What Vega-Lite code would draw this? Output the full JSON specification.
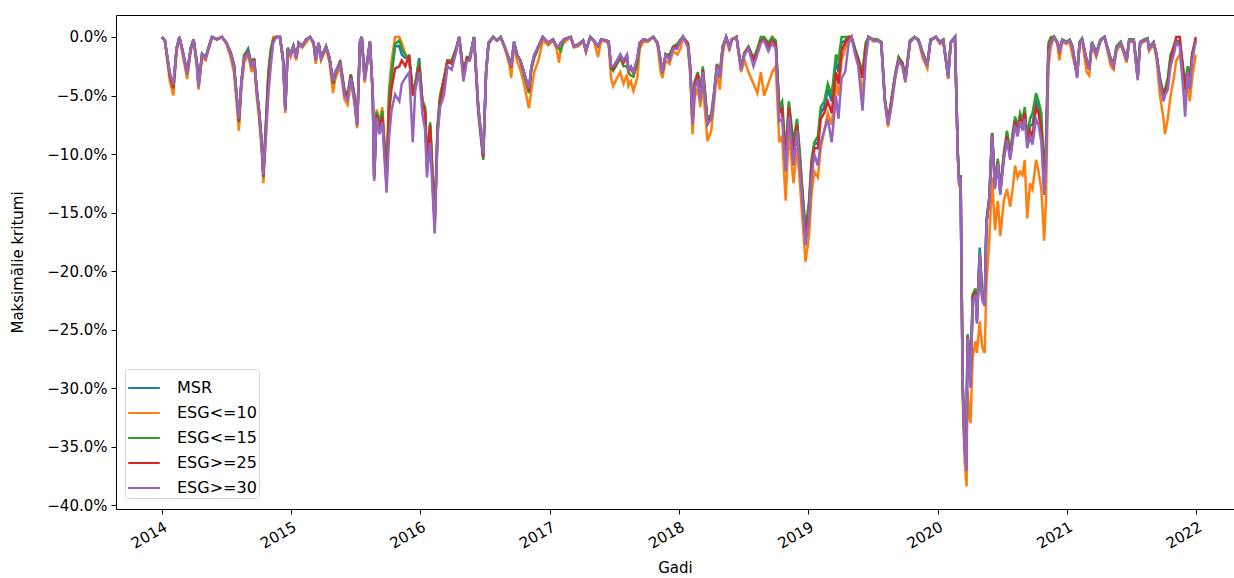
{
  "$schema": "https://vega.github.io/schema/vega-lite/v6.json",
  "width": 1118,
  "height": 494,
  "autosize": {"type": "none"},
  "padding": {"left": 116, "top": 15, "right": 0, "bottom": 69},
  "background": "white",
  "config": {
    "view": {"stroke": "#000", "strokeWidth": 1},
    "font": "DejaVu Sans",
    "axis": {"labelFont": "DejaVu Sans", "titleFont": "DejaVu Sans", "labelFontSize": 15, "titleFontSize": 15, "titleFontWeight": "normal", "labelColor": "#000", "titleColor": "#000", "tickColor": "#000", "domain": false, "grid": false, "tickSize": 5, "tickWidth": 1, "labelPadding": 4},
    "legend": {"labelFont": "DejaVu Sans", "labelFontSize": 16, "labelColor": "#000"}
  },
  "data": {"values": [
{"d":"2014-01-02","s1":0,"s2":0,"s3":0,"s4":0,"s5":0},
{"d":"2014-01-10","s1":-0.3,"s2":-0.3,"s3":-0.3,"s4":-0.3,"s5":-0.3},
{"d":"2014-01-24","s1":-3.3,"s2":-3.8,"s3":-3.3,"s4":-3.2,"s5":-3.0},
{"d":"2014-02-03","s1":-4.3,"s2":-5.0,"s3":-4.4,"s4":-4.3,"s5":-4.1},
{"d":"2014-02-12","s1":-1.0,"s2":-1.3,"s3":-1.0,"s4":-1.0,"s5":-1.0},
{"d":"2014-02-20","s1":0,"s2":0,"s3":0,"s4":0,"s5":0},
{"d":"2014-03-03","s1":-1.5,"s2":-1.8,"s3":-1.4,"s4":-1.5,"s5":-1.5},
{"d":"2014-03-14","s1":-3.1,"s2":-3.6,"s3":-3.0,"s4":-3.1,"s5":-3.2},
{"d":"2014-03-24","s1":-1.0,"s2":-1.2,"s3":-0.9,"s4":-1.0,"s5":-1.0},
{"d":"2014-04-01","s1":-0.2,"s2":-0.2,"s3":-0.2,"s4":-0.2,"s5":-0.2},
{"d":"2014-04-11","s1":-2.4,"s2":-2.8,"s3":-2.3,"s4":-2.4,"s5":-2.5},
{"d":"2014-04-15","s1":-4.2,"s2":-4.5,"s3":-4.1,"s4":-4.2,"s5":-4.3},
{"d":"2014-04-25","s1":-1.5,"s2":-1.7,"s3":-1.4,"s4":-1.5,"s5":-1.5},
{"d":"2014-05-05","s1":-1.8,"s2":-2.0,"s3":-1.7,"s4":-1.8,"s5":-1.8},
{"d":"2014-05-15","s1":-0.8,"s2":-0.9,"s3":-0.7,"s4":-0.8,"s5":-0.8},
{"d":"2014-05-23","s1":0,"s2":0,"s3":0,"s4":0,"s5":0},
{"d":"2014-06-06","s1":-0.2,"s2":-0.2,"s3":-0.2,"s4":-0.2,"s5":-0.2},
{"d":"2014-06-20","s1":0,"s2":0,"s3":0,"s4":0,"s5":0},
{"d":"2014-07-03","s1":-0.5,"s2":-0.6,"s3":-0.5,"s4":-0.5,"s5":-0.5},
{"d":"2014-07-15","s1":-1.4,"s2":-1.8,"s3":-1.3,"s4":-1.4,"s5":-1.5},
{"d":"2014-07-24","s1":-2.4,"s2":-3.0,"s3":-2.3,"s4":-2.4,"s5":-2.5},
{"d":"2014-07-31","s1":-4.8,"s2":-5.5,"s3":-4.7,"s4":-4.8,"s5":-5.0},
{"d":"2014-08-07","s1":-7.1,"s2":-8.0,"s3":-7.3,"s4":-7.2,"s5":-7.0},
{"d":"2014-08-14","s1":-3.9,"s2":-4.4,"s3":-3.8,"s4":-3.9,"s5":-4.0},
{"d":"2014-08-22","s1":-1.6,"s2":-2.2,"s3":-1.5,"s4":-1.7,"s5":-1.8},
{"d":"2014-09-02","s1":-1.0,"s2":-1.5,"s3":-1.2,"s4":-1.3,"s5":-1.4},
{"d":"2014-09-12","s1":-2.4,"s2":-3.0,"s3":-2.3,"s4":-2.4,"s5":-2.5},
{"d":"2014-09-19","s1":-1.9,"s2":-2.2,"s3":-1.8,"s4":-1.9,"s5":-2.0},
{"d":"2014-09-26","s1":-4.4,"s2":-5.0,"s3":-4.3,"s4":-4.4,"s5":-4.5},
{"d":"2014-10-03","s1":-6.3,"s2":-7.0,"s3":-6.2,"s4":-6.4,"s5":-6.5},
{"d":"2014-10-10","s1":-8.8,"s2":-9.5,"s3":-8.7,"s4":-8.9,"s5":-9.0},
{"d":"2014-10-15","s1":-11.8,"s2":-12.5,"s3":-12.0,"s4":-11.9,"s5":-11.8},
{"d":"2014-10-22","s1":-7.8,"s2":-8.8,"s3":-7.5,"s4":-8.0,"s5":-8.5},
{"d":"2014-10-29","s1":-3.5,"s2":-4.5,"s3":-3.0,"s4":-4.0,"s5":-5.0},
{"d":"2014-11-05","s1":-1.3,"s2":-1.5,"s3":-1.0,"s4":-1.8,"s5":-2.5},
{"d":"2014-11-12","s1":-0.2,"s2":0,"s3":-0.2,"s4":-0.3,"s5":-0.5},
{"d":"2014-11-21","s1":0,"s2":0,"s3":0,"s4":0,"s5":0},
{"d":"2014-12-01","s1":0,"s2":0,"s3":0,"s4":0,"s5":0},
{"d":"2014-12-10","s1":-2.0,"s2":-2.2,"s3":-1.9,"s4":-2.0,"s5":-2.0},
{"d":"2014-12-16","s1":-6.2,"s2":-6.5,"s3":-6.1,"s4":-6.2,"s5":-6.3},
{"d":"2014-12-23","s1":-1.0,"s2":-1.1,"s3":-0.9,"s4":-1.0,"s5":-1.0},
{"d":"2014-12-31","s1":-1.5,"s2":-1.7,"s3":-1.4,"s4":-1.5,"s5":-1.5},
{"d":"2015-01-08","s1":-0.8,"s2":-0.9,"s3":-0.7,"s4":-0.8,"s5":-0.8},
{"d":"2015-01-16","s1":-1.8,"s2":-2.0,"s3":-1.7,"s4":-1.8,"s5":-1.8},
{"d":"2015-01-23","s1":-0.5,"s2":-0.6,"s3":-0.5,"s4":-0.5,"s5":-0.5},
{"d":"2015-02-02","s1":-0.8,"s2":-0.9,"s3":-0.7,"s4":-0.8,"s5":-0.8},
{"d":"2015-02-13","s1":-0.2,"s2":-0.5,"s3":-0.2,"s4":-0.2,"s5":-0.2},
{"d":"2015-02-24","s1":0,"s2":0,"s3":0,"s4":0,"s5":0},
{"d":"2015-03-06","s1":-0.5,"s2":-0.6,"s3":-0.5,"s4":-0.5,"s5":-0.5},
{"d":"2015-03-12","s1":-2.0,"s2":-2.3,"s3":-1.9,"s4":-2.0,"s5":-2.0},
{"d":"2015-03-20","s1":-0.5,"s2":-0.6,"s3":-0.5,"s4":-0.5,"s5":-0.5},
{"d":"2015-03-27","s1":-1.8,"s2":-2.0,"s3":-1.7,"s4":-1.8,"s5":-1.8},
{"d":"2015-04-10","s1":-0.8,"s2":-1.0,"s3":-0.8,"s4":-0.8,"s5":-0.8},
{"d":"2015-04-20","s1":-1.8,"s2":-2.2,"s3":-1.8,"s4":-1.8,"s5":-1.8},
{"d":"2015-04-30","s1":-3.8,"s2":-4.8,"s3":-4.0,"s4":-3.9,"s5":-3.8},
{"d":"2015-05-06","s1":-3.0,"s2":-3.6,"s3":-3.2,"s4":-3.0,"s5":-3.0},
{"d":"2015-05-20","s1":-2.2,"s2":-2.5,"s3":-2.0,"s4":-2.2,"s5":-2.3},
{"d":"2015-06-01","s1":-4.6,"s2":-5.3,"s3":-4.5,"s4":-4.7,"s5":-5.0},
{"d":"2015-06-10","s1":-5.0,"s2":-5.8,"s3":-5.0,"s4":-5.1,"s5":-5.4},
{"d":"2015-06-19","s1":-3.2,"s2":-3.8,"s3":-3.2,"s4":-3.3,"s5":-3.5},
{"d":"2015-06-29","s1":-5.0,"s2":-5.6,"s3":-4.9,"s4":-5.1,"s5":-5.4},
{"d":"2015-07-07","s1":-7.4,"s2":-7.8,"s3":-7.3,"s4":-7.5,"s5":-7.6},
{"d":"2015-07-15","s1":-0.4,"s2":-0.6,"s3":-0.4,"s4":-0.4,"s5":-0.4},
{"d":"2015-07-20","s1":0,"s2":0,"s3":0,"s4":0,"s5":0},
{"d":"2015-07-28","s1":-3.5,"s2":-3.9,"s3":-3.4,"s4":-3.6,"s5":-3.7},
{"d":"2015-08-05","s1":-2.0,"s2":-2.2,"s3":-1.9,"s4":-2.0,"s5":-2.1},
{"d":"2015-08-12","s1":-0.4,"s2":-0.5,"s3":-0.4,"s4":-0.4,"s5":-0.4},
{"d":"2015-08-20","s1":-4.8,"s2":-5.0,"s3":-4.7,"s4":-4.8,"s5":-4.9},
{"d":"2015-08-24","s1":-12.0,"s2":-11.8,"s3":-11.9,"s4":-12.1,"s5":-12.3},
{"d":"2015-08-31","s1":-6.5,"s2":-6.2,"s3":-6.4,"s4":-6.7,"s5":-6.9},
{"d":"2015-09-08","s1":-7.5,"s2":-7.2,"s3":-7.4,"s4":-7.8,"s5":-8.3},
{"d":"2015-09-16","s1":-6.5,"s2":-6.0,"s3":-6.3,"s4":-6.8,"s5":-7.3},
{"d":"2015-09-28","s1":-12.3,"s2":-12.0,"s3":-12.2,"s4":-12.6,"s5":-13.3},
{"d":"2015-10-05","s1":-6.0,"s2":-4.4,"s3":-5.0,"s4":-6.5,"s5":-8.6},
{"d":"2015-10-12","s1":-3.3,"s2":-2.1,"s3":-3.0,"s4":-4.4,"s5":-6.3},
{"d":"2015-10-22","s1":-0.8,"s2":0,"s3":-0.6,"s4":-2.7,"s5":-4.9},
{"d":"2015-11-03","s1":-0.8,"s2":0,"s3":-0.3,"s4":-2.5,"s5":-5.5},
{"d":"2015-11-10","s1":-1.5,"s2":-0.5,"s3":-1.0,"s4":-2.0,"s5":-4.0},
{"d":"2015-11-20","s1":-1.8,"s2":-1.5,"s3":-1.5,"s4":-2.5,"s5":-3.5},
{"d":"2015-12-01","s1":-1.8,"s2":-2.0,"s3":-2.0,"s4":-1.5,"s5":-3.0},
{"d":"2015-12-11","s1":-4.8,"s2":-5.0,"s3":-4.5,"s4":-5.0,"s5":-9.0},
{"d":"2015-12-18","s1":-4.1,"s2":-4.5,"s3":-4.0,"s4":-4.3,"s5":-4.5},
{"d":"2015-12-29","s1":-1.8,"s2":-2.5,"s3":-2.0,"s4":-2.5,"s5":-3.0},
{"d":"2016-01-07","s1":-5.5,"s2":-5.5,"s3":-5.4,"s4":-5.6,"s5":-6.5},
{"d":"2016-01-15","s1":-6.2,"s2":-6.5,"s3":-6.0,"s4":-6.5,"s5":-8.0},
{"d":"2016-01-20","s1":-10.8,"s2":-11.5,"s3":-10.5,"s4":-11.0,"s5":-12.0},
{"d":"2016-01-29","s1":-7.5,"s2":-7.5,"s3":-7.3,"s4":-7.6,"s5":-9.0},
{"d":"2016-02-11","s1":-15.8,"s2":-16.5,"s3":-15.5,"s4":-16.0,"s5":-16.8},
{"d":"2016-02-19","s1":-7.8,"s2":-8.0,"s3":-7.6,"s4":-8.0,"s5":-8.5},
{"d":"2016-02-26","s1":-5.2,"s2":-5.5,"s3":-5.0,"s4":-5.5,"s5":-6.0},
{"d":"2016-03-08","s1":-3.6,"s2":-4.0,"s3":-3.5,"s4":-3.8,"s5":-5.0},
{"d":"2016-03-18","s1":-2.0,"s2":-2.0,"s3":-2.0,"s4":-2.1,"s5":-2.5},
{"d":"2016-03-30","s1":-2.1,"s2":-2.0,"s3":-2.0,"s4":-2.3,"s5":-2.8},
{"d":"2016-04-12","s1":-1.0,"s2":-1.1,"s3":-0.9,"s4":-1.0,"s5":-1.2},
{"d":"2016-04-20","s1":0,"s2":0,"s3":0,"s4":0,"s5":0},
{"d":"2016-05-02","s1":-3.1,"s2":-3.0,"s3":-3.0,"s4":-3.2,"s5":-3.8},
{"d":"2016-05-12","s1":-1.8,"s2":-1.9,"s3":-1.7,"s4":-1.8,"s5":-2.0},
{"d":"2016-05-20","s1":-1.8,"s2":-2.0,"s3":-1.7,"s4":-1.9,"s5":-2.0},
{"d":"2016-06-01","s1":0,"s2":0,"s3":0,"s4":0,"s5":0},
{"d":"2016-06-13","s1":-6.0,"s2":-6.0,"s3":-6.5,"s4":-6.1,"s5":-6.0},
{"d":"2016-06-27","s1":-10.2,"s2":-10.0,"s3":-10.5,"s4":-10.3,"s5":-10.0},
{"d":"2016-07-05","s1":-3.0,"s2":-3.0,"s3":-3.2,"s4":-3.0,"s5":-3.0},
{"d":"2016-07-12","s1":-0.5,"s2":-0.5,"s3":-0.6,"s4":-0.5,"s5":-0.5},
{"d":"2016-07-25","s1":0,"s2":0,"s3":0,"s4":0,"s5":0},
{"d":"2016-08-05","s1":-0.3,"s2":-0.3,"s3":-0.3,"s4":-0.3,"s5":-0.3},
{"d":"2016-08-15","s1":0,"s2":0,"s3":0,"s4":0,"s5":0},
{"d":"2016-08-26","s1":-0.8,"s2":-0.9,"s3":-0.8,"s4":-0.8,"s5":-0.8},
{"d":"2016-09-09","s1":-2.0,"s2":-2.4,"s3":-1.9,"s4":-2.0,"s5":-2.0},
{"d":"2016-09-14","s1":-2.5,"s2":-3.5,"s3":-2.5,"s4":-2.6,"s5":-2.5},
{"d":"2016-09-22","s1":-0.4,"s2":-0.6,"s3":-0.4,"s4":-0.5,"s5":-0.5},
{"d":"2016-09-30","s1":-1.5,"s2":-2.0,"s3":-1.4,"s4":-1.5,"s5":-1.5},
{"d":"2016-10-10","s1":-2.0,"s2":-2.8,"s3":-2.1,"s4":-2.0,"s5":-2.0},
{"d":"2016-10-20","s1":-3.0,"s2":-4.0,"s3":-3.2,"s4":-3.0,"s5":-3.0},
{"d":"2016-11-03","s1":-4.5,"s2":-6.1,"s3":-4.8,"s4":-4.6,"s5":-4.4},
{"d":"2016-11-10","s1":-2.6,"s2":-4.5,"s3":-2.8,"s4":-2.6,"s5":-2.5},
{"d":"2016-11-18","s1":-1.6,"s2":-3.0,"s3":-1.8,"s4":-1.6,"s5":-1.5},
{"d":"2016-11-30","s1":-0.8,"s2":-2.0,"s3":-0.9,"s4":-0.8,"s5":-0.8},
{"d":"2016-12-12","s1":0,"s2":-0.3,"s3":0,"s4":0,"s5":0},
{"d":"2016-12-28","s1":-0.5,"s2":-0.7,"s3":-0.5,"s4":-0.5,"s5":-0.5},
{"d":"2017-01-10","s1":-0.2,"s2":-0.3,"s3":-0.2,"s4":-0.2,"s5":-0.2},
{"d":"2017-01-20","s1":-0.8,"s2":-1.0,"s3":-0.8,"s4":-0.8,"s5":-0.8},
{"d":"2017-01-27","s1":-0.8,"s2":-2.2,"s3":-1.0,"s4":-0.8,"s5":-0.8},
{"d":"2017-02-01","s1":-0.5,"s2":-0.8,"s3":-1.2,"s4":-0.5,"s5":-0.5},
{"d":"2017-02-10","s1":-0.2,"s2":-0.5,"s3":-0.2,"s4":-0.2,"s5":-0.2},
{"d":"2017-03-01","s1":0,"s2":0,"s3":0,"s4":0,"s5":0},
{"d":"2017-03-10","s1":-0.8,"s2":-0.9,"s3":-0.8,"s4":-0.8,"s5":-0.8},
{"d":"2017-03-22","s1":-0.7,"s2":-0.8,"s3":-0.6,"s4":-0.7,"s5":-0.7},
{"d":"2017-04-05","s1":-0.3,"s2":-0.4,"s3":-0.3,"s4":-0.3,"s5":-0.3},
{"d":"2017-04-13","s1":-1.2,"s2":-1.3,"s3":-1.1,"s4":-1.2,"s5":-1.2},
{"d":"2017-04-25","s1":0,"s2":0,"s3":0,"s4":0,"s5":0},
{"d":"2017-05-05","s1":-0.3,"s2":-0.3,"s3":-0.3,"s4":-0.3,"s5":-0.3},
{"d":"2017-05-17","s1":-0.8,"s2":-1.7,"s3":-0.8,"s4":-0.8,"s5":-0.8},
{"d":"2017-05-26","s1":-0.2,"s2":-0.3,"s3":-0.2,"s4":-0.2,"s5":-0.2},
{"d":"2017-06-09","s1":-0.3,"s2":-0.4,"s3":-0.3,"s4":-0.3,"s5":-0.3},
{"d":"2017-06-16","s1":-0.4,"s2":-0.6,"s3":-0.4,"s4":-0.4,"s5":-0.4},
{"d":"2017-06-23","s1":-2.5,"s2":-3.5,"s3":-2.7,"s4":-2.6,"s5":-2.5},
{"d":"2017-06-29","s1":-2.6,"s2":-4.2,"s3":-2.9,"s4":-2.7,"s5":-2.5},
{"d":"2017-07-10","s1":-2.0,"s2":-3.5,"s3":-2.3,"s4":-2.1,"s5":-2.0},
{"d":"2017-07-19","s1":-1.5,"s2":-3.0,"s3":-1.8,"s4":-1.6,"s5":-1.5},
{"d":"2017-07-28","s1":-2.1,"s2":-4.0,"s3":-2.5,"s4":-2.2,"s5":-2.0},
{"d":"2017-08-07","s1":-1.6,"s2":-3.2,"s3":-2.5,"s4":-1.7,"s5":-1.5},
{"d":"2017-08-11","s1":-2.8,"s2":-4.2,"s3":-3.0,"s4":-2.9,"s5":-2.8},
{"d":"2017-08-18","s1":-2.6,"s2":-3.8,"s3":-3.3,"s4":-2.7,"s5":-2.5},
{"d":"2017-08-25","s1":-3.0,"s2":-4.6,"s3":-3.4,"s4":-3.1,"s5":-3.0},
{"d":"2017-09-05","s1":-1.9,"s2":-3.5,"s3":-2.3,"s4":-1.9,"s5":-1.8},
{"d":"2017-09-12","s1":-0.5,"s2":-1.0,"s3":-0.6,"s4":-0.5,"s5":-0.5},
{"d":"2017-09-22","s1":-0.2,"s2":-0.4,"s3":-0.2,"s4":-0.2,"s5":-0.2},
{"d":"2017-10-05","s1":-0.3,"s2":-0.4,"s3":-0.3,"s4":-0.3,"s5":-0.3},
{"d":"2017-10-20","s1":0,"s2":0,"s3":0,"s4":0,"s5":0},
{"d":"2017-11-01","s1":-0.5,"s2":-0.6,"s3":-0.5,"s4":-0.5,"s5":-0.5},
{"d":"2017-11-10","s1":-2.0,"s2":-3.0,"s3":-2.1,"s4":-2.0,"s5":-2.0},
{"d":"2017-11-15","s1":-3.0,"s2":-3.5,"s3":-3.1,"s4":-3.0,"s5":-3.0},
{"d":"2017-11-24","s1":-1.5,"s2":-2.0,"s3":-1.5,"s4":-1.5,"s5":-1.5},
{"d":"2017-12-05","s1":-1.6,"s2":-2.3,"s3":-1.5,"s4":-1.8,"s5":-2.0},
{"d":"2017-12-15","s1":-0.9,"s2":-1.2,"s3":-0.8,"s4":-0.9,"s5":-1.0},
{"d":"2017-12-27","s1":-0.9,"s2":-1.5,"s3":-0.6,"s4":-0.8,"s5":-1.0},
{"d":"2018-01-05","s1":-0.3,"s2":-1.0,"s3":-0.2,"s4":-0.3,"s5":-0.3},
{"d":"2018-01-12","s1":0,"s2":0,"s3":0,"s4":0,"s5":0},
{"d":"2018-01-26","s1":-0.6,"s2":-0.9,"s3":-0.5,"s4":-0.6,"s5":-0.8},
{"d":"2018-02-02","s1":-2.8,"s2":-3.5,"s3":-2.6,"s4":-2.8,"s5":-3.0},
{"d":"2018-02-08","s1":-7.4,"s2":-8.3,"s3":-7.3,"s4":-7.4,"s5":-7.5},
{"d":"2018-02-14","s1":-4.1,"s2":-5.2,"s3":-3.8,"s4":-4.0,"s5":-4.4},
{"d":"2018-02-23","s1":-3.3,"s2":-4.3,"s3":-3.0,"s4":-3.2,"s5":-3.6},
{"d":"2018-03-02","s1":-5.3,"s2":-6.0,"s3":-5.0,"s4":-5.2,"s5":-5.5},
{"d":"2018-03-09","s1":-2.7,"s2":-4.0,"s3":-2.5,"s4":-2.8,"s5":-3.0},
{"d":"2018-03-22","s1":-7.2,"s2":-8.9,"s3":-7.0,"s4":-7.3,"s5":-7.5},
{"d":"2018-04-02","s1":-6.8,"s2":-8.0,"s3":-6.6,"s4":-6.9,"s5":-7.0},
{"d":"2018-04-10","s1":-4.8,"s2":-5.5,"s3":-4.6,"s4":-4.9,"s5":-5.0},
{"d":"2018-04-18","s1":-2.4,"s2":-3.0,"s3":-2.3,"s4":-2.4,"s5":-2.5},
{"d":"2018-04-26","s1":-3.3,"s2":-4.5,"s3":-3.2,"s4":-3.4,"s5":-3.5},
{"d":"2018-05-04","s1":-0.9,"s2":-1.5,"s3":-0.8,"s4":-0.9,"s5":-1.0},
{"d":"2018-05-14","s1":0,"s2":0,"s3":0,"s4":0,"s5":0},
{"d":"2018-05-23","s1":-0.9,"s2":-1.2,"s3":-0.8,"s4":-0.9,"s5":-1.0},
{"d":"2018-05-30","s1":-0.2,"s2":-0.3,"s3":-0.2,"s4":-0.2,"s5":-0.2},
{"d":"2018-06-12","s1":0,"s2":0,"s3":0,"s4":0,"s5":0},
{"d":"2018-06-25","s1":-2.6,"s2":-3.0,"s3":-2.5,"s4":-2.7,"s5":-2.8},
{"d":"2018-07-05","s1":-1.4,"s2":-2.0,"s3":-1.3,"s4":-1.4,"s5":-1.5},
{"d":"2018-07-16","s1":-0.9,"s2":-3.0,"s3":-0.8,"s4":-0.9,"s5":-1.0},
{"d":"2018-07-30","s1":-2.0,"s2":-4.0,"s3":-1.8,"s4":-2.0,"s5":-2.5},
{"d":"2018-08-10","s1":-1.2,"s2":-4.8,"s3":-1.0,"s4":-1.3,"s5":-1.5},
{"d":"2018-08-20","s1":-0.3,"s2":-3.0,"s3":0,"s4":-0.3,"s5":-0.5},
{"d":"2018-08-29","s1":-0.2,"s2":-5.0,"s3":0,"s4":-0.2,"s5":-0.3},
{"d":"2018-09-10","s1":-0.8,"s2":-4.0,"s3":-0.5,"s4":-0.8,"s5":-1.2},
{"d":"2018-09-21","s1":-0.2,"s2":-3.0,"s3":0,"s4":-0.3,"s5":-0.5},
{"d":"2018-10-01","s1":-0.5,"s2":-2.5,"s3":-0.3,"s4":-0.6,"s5":-1.0},
{"d":"2018-10-11","s1":-6.3,"s2":-9.0,"s3":-6.0,"s4":-6.5,"s5":-7.2},
{"d":"2018-10-19","s1":-6.0,"s2":-8.5,"s3":-5.5,"s4":-6.2,"s5":-7.0},
{"d":"2018-10-29","s1":-10.3,"s2":-14.0,"s3":-10.0,"s4":-10.5,"s5":-11.5},
{"d":"2018-11-07","s1":-5.8,"s2":-8.0,"s3":-5.5,"s4":-6.0,"s5":-6.8},
{"d":"2018-11-20","s1":-9.5,"s2":-12.5,"s3":-9.0,"s4":-10.0,"s5":-11.0},
{"d":"2018-11-30","s1":-7.2,"s2":-9.5,"s3":-7.0,"s4":-7.5,"s5":-8.0},
{"d":"2018-12-07","s1":-10.0,"s2":-12.0,"s3":-9.5,"s4":-10.5,"s5":-11.0},
{"d":"2018-12-14","s1":-12.8,"s2":-15.0,"s3":-12.5,"s4":-13.0,"s5":-13.5},
{"d":"2018-12-24","s1":-16.8,"s2":-19.2,"s3":-16.5,"s4":-17.2,"s5":-17.8},
{"d":"2019-01-03","s1":-14.5,"s2":-17.0,"s3":-14.0,"s4":-15.0,"s5":-15.5},
{"d":"2019-01-10","s1":-10.8,"s2":-13.5,"s3":-10.5,"s4":-11.0,"s5":-12.0},
{"d":"2019-01-18","s1":-9.2,"s2":-11.5,"s3":-9.0,"s4":-9.5,"s5":-10.0},
{"d":"2019-01-28","s1":-9.0,"s2":-12.0,"s3":-8.5,"s4":-9.5,"s5":-11.0},
{"d":"2019-02-05","s1":-6.5,"s2":-9.5,"s3":-6.0,"s4":-7.0,"s5":-9.0},
{"d":"2019-02-15","s1":-6.0,"s2":-8.0,"s3":-5.5,"s4":-6.5,"s5":-8.0},
{"d":"2019-02-25","s1":-4.5,"s2":-6.5,"s3":-4.0,"s4":-5.5,"s5":-7.0},
{"d":"2019-03-08","s1":-5.5,"s2":-7.5,"s3":-5.0,"s4":-6.5,"s5":-9.0},
{"d":"2019-03-20","s1":-2.0,"s2":-4.0,"s3":-1.5,"s4":-3.0,"s5":-5.0},
{"d":"2019-03-27","s1":-3.0,"s2":-5.0,"s3":-2.0,"s4":-4.0,"s5":-7.0},
{"d":"2019-04-05","s1":-0.5,"s2":-2.0,"s3":0,"s4":-1.2,"s5":-3.5},
{"d":"2019-04-15","s1":-0.3,"s2":-1.0,"s3":0,"s4":-0.5,"s5":-3.0},
{"d":"2019-04-25","s1":0,"s2":0,"s3":0,"s4":0,"s5":-0.5},
{"d":"2019-05-03","s1":0,"s2":0,"s3":0,"s4":0,"s5":0},
{"d":"2019-05-13","s1":-1.1,"s2":-1.2,"s3":-1.0,"s4":-1.2,"s5":-1.5},
{"d":"2019-05-22","s1":-2.0,"s2":-2.2,"s3":-1.8,"s4":-2.0,"s5":-2.5},
{"d":"2019-06-03","s1":-3.2,"s2":-5.0,"s3":-3.0,"s4":-3.5,"s5":-6.3},
{"d":"2019-06-12","s1":-0.8,"s2":-1.5,"s3":-0.5,"s4":-1.0,"s5":-2.0},
{"d":"2019-06-20","s1":0,"s2":0,"s3":0,"s4":0,"s5":0},
{"d":"2019-07-05","s1":-0.3,"s2":-0.4,"s3":-0.2,"s4":-0.3,"s5":-0.3},
{"d":"2019-07-15","s1":-0.3,"s2":-0.3,"s3":-0.2,"s4":-0.3,"s5":-0.3},
{"d":"2019-07-26","s1":-0.5,"s2":-0.5,"s3":-0.4,"s4":-0.5,"s5":-0.5},
{"d":"2019-08-05","s1":-5.3,"s2":-5.5,"s3":-5.2,"s4":-5.4,"s5":-5.5},
{"d":"2019-08-14","s1":-7.3,"s2":-7.7,"s3":-7.2,"s4":-7.4,"s5":-7.5},
{"d":"2019-08-23","s1":-5.6,"s2":-6.0,"s3":-5.5,"s4":-5.5,"s5":-6.0},
{"d":"2019-09-03","s1":-3.3,"s2":-3.6,"s3":-3.2,"s4":-3.4,"s5":-3.5},
{"d":"2019-09-13","s1":-1.8,"s2":-2.0,"s3":-1.7,"s4":-1.9,"s5":-2.0},
{"d":"2019-09-24","s1":-2.3,"s2":-2.6,"s3":-2.2,"s4":-2.3,"s5":-2.5},
{"d":"2019-10-02","s1":-3.6,"s2":-3.9,"s3":-3.5,"s4":-3.7,"s5":-3.8},
{"d":"2019-10-15","s1":-0.4,"s2":-0.5,"s3":-0.3,"s4":-0.4,"s5":-0.5},
{"d":"2019-10-28","s1":0,"s2":0,"s3":0,"s4":0,"s5":0},
{"d":"2019-11-08","s1":-0.3,"s2":-0.3,"s3":-0.2,"s4":-0.3,"s5":-0.3},
{"d":"2019-11-20","s1":-1.4,"s2":-1.8,"s3":-1.3,"s4":-1.4,"s5":-1.5},
{"d":"2019-12-03","s1":-2.4,"s2":-2.7,"s3":-2.3,"s4":-2.4,"s5":-2.5},
{"d":"2019-12-12","s1":-0.3,"s2":-0.3,"s3":-0.2,"s4":-0.3,"s5":-0.3},
{"d":"2019-12-27","s1":0,"s2":0,"s3":0,"s4":0,"s5":0},
{"d":"2020-01-08","s1":-0.5,"s2":-0.6,"s3":-0.4,"s4":-0.5,"s5":-0.5},
{"d":"2020-01-17","s1":-0.3,"s2":-0.3,"s3":-0.2,"s4":-0.3,"s5":-0.3},
{"d":"2020-01-31","s1":-3.4,"s2":-3.6,"s3":-3.3,"s4":-3.4,"s5":-3.5},
{"d":"2020-02-07","s1":-0.5,"s2":-0.5,"s3":-0.4,"s4":-0.5,"s5":-0.5},
{"d":"2020-02-19","s1":0,"s2":0,"s3":0,"s4":0,"s5":0},
{"d":"2020-02-24","s1":-6.2,"s2":-6.4,"s3":-6.1,"s4":-6.2,"s5":-6.3},
{"d":"2020-02-27","s1":-9.9,"s2":-10.2,"s3":-9.8,"s4":-9.9,"s5":-10.0},
{"d":"2020-03-02","s1":-12.5,"s2":-12.8,"s3":-12.4,"s4":-12.5,"s5":-12.6},
{"d":"2020-03-06","s1":-11.9,"s2":-12.2,"s3":-11.8,"s4":-11.9,"s5":-12.0},
{"d":"2020-03-09","s1":-21.3,"s2":-21.8,"s3":-21.2,"s4":-21.4,"s5":-21.5},
{"d":"2020-03-12","s1":-29.8,"s2":-31.0,"s3":-29.7,"s4":-29.9,"s5":-30.0},
{"d":"2020-03-16","s1":-33.8,"s2":-35.0,"s3":-33.5,"s4":-33.8,"s5":-34.0},
{"d":"2020-03-18","s1":-35.3,"s2":-36.5,"s3":-35.1,"s4":-35.3,"s5":-35.5},
{"d":"2020-03-23","s1":-36.6,"s2":-38.4,"s3":-36.5,"s4":-36.8,"s5":-37.1},
{"d":"2020-03-24","s1":-29.8,"s2":-33.0,"s3":-29.7,"s4":-29.9,"s5":-30.0},
{"d":"2020-03-26","s1":-25.5,"s2":-30.3,"s3":-25.4,"s4":-25.6,"s5":-25.7},
{"d":"2020-03-31","s1":-27.7,"s2":-32.5,"s3":-27.5,"s4":-27.8,"s5":-28.0},
{"d":"2020-04-03","s1":-29.8,"s2":-33.0,"s3":-29.6,"s4":-29.8,"s5":-30.0},
{"d":"2020-04-09","s1":-22.2,"s2":-27.4,"s3":-22.0,"s4":-22.3,"s5":-22.6},
{"d":"2020-04-17","s1":-21.6,"s2":-26.0,"s3":-21.5,"s4":-21.8,"s5":-22.0},
{"d":"2020-04-21","s1":-24.2,"s2":-27.0,"s3":-24.0,"s4":-24.3,"s5":-24.5},
{"d":"2020-04-29","s1":-18.0,"s2":-24.3,"s3":-18.3,"s4":-18.7,"s5":-18.5},
{"d":"2020-05-01","s1":-19.3,"s2":-25.0,"s3":-19.1,"s4":-19.4,"s5":-19.5},
{"d":"2020-05-06","s1":-22.2,"s2":-26.5,"s3":-22.0,"s4":-22.3,"s5":-22.5},
{"d":"2020-05-13","s1":-22.7,"s2":-27.0,"s3":-22.5,"s4":-22.8,"s5":-23.0},
{"d":"2020-05-18","s1":-15.8,"s2":-21.0,"s3":-15.6,"s4":-15.9,"s5":-16.0},
{"d":"2020-05-26","s1":-13.8,"s2":-17.4,"s3":-13.6,"s4":-13.9,"s5":-14.0},
{"d":"2020-06-03","s1":-8.2,"s2":-12.0,"s3":-8.2,"s4":-8.3,"s5":-8.4},
{"d":"2020-06-11","s1":-12.7,"s2":-16.5,"s3":-12.5,"s4":-12.8,"s5":-13.0},
{"d":"2020-06-19","s1":-10.6,"s2":-14.0,"s3":-10.4,"s4":-10.7,"s5":-10.8},
{"d":"2020-06-26","s1":-13.2,"s2":-17.0,"s3":-13.0,"s4":-13.3,"s5":-13.5},
{"d":"2020-07-06","s1":-10.2,"s2":-14.0,"s3":-9.9,"s4":-10.3,"s5":-10.5},
{"d":"2020-07-15","s1":-8.4,"s2":-13.0,"s3":-8.0,"s4":-8.5,"s5":-8.8},
{"d":"2020-07-24","s1":-10.2,"s2":-14.5,"s3":-9.8,"s4":-10.3,"s5":-10.5},
{"d":"2020-07-31","s1":-8.6,"s2":-13.0,"s3":-8.2,"s4":-8.7,"s5":-9.0},
{"d":"2020-08-07","s1":-7.1,"s2":-11.0,"s3":-6.8,"s4":-7.2,"s5":-7.5},
{"d":"2020-08-14","s1":-8.1,"s2":-12.0,"s3":-7.7,"s4":-8.2,"s5":-8.5},
{"d":"2020-08-21","s1":-6.8,"s2":-11.5,"s3":-6.5,"s4":-7.0,"s5":-7.2},
{"d":"2020-08-28","s1":-7.5,"s2":-11.8,"s3":-7.1,"s4":-7.6,"s5":-8.0},
{"d":"2020-09-03","s1":-6.4,"s2":-10.5,"s3":-6.0,"s4":-6.5,"s5":-7.0},
{"d":"2020-09-10","s1":-8.8,"s2":-15.5,"s3":-8.5,"s4":-9.0,"s5":-9.5},
{"d":"2020-09-18","s1":-7.6,"s2":-12.5,"s3":-7.0,"s4":-8.0,"s5":-8.5},
{"d":"2020-09-25","s1":-7.5,"s2":-13.0,"s3":-6.5,"s4":-8.5,"s5":-9.2},
{"d":"2020-10-05","s1":-5.5,"s2":-10.5,"s3":-4.8,"s4":-6.0,"s5":-7.0},
{"d":"2020-10-12","s1":-6.0,"s2":-11.5,"s3":-5.5,"s4":-6.5,"s5":-7.5},
{"d":"2020-10-20","s1":-7.3,"s2":-13.0,"s3":-6.5,"s4":-8.0,"s5":-9.0},
{"d":"2020-10-28","s1":-12.5,"s2":-17.4,"s3":-12.0,"s4":-13.0,"s5":-13.5},
{"d":"2020-11-02","s1":-9.5,"s2":-14.0,"s3":-9.0,"s4":-10.0,"s5":-11.0},
{"d":"2020-11-09","s1":-0.8,"s2":-2.5,"s3":-0.5,"s4":-1.0,"s5":-1.5},
{"d":"2020-11-16","s1":-0.2,"s2":-0.8,"s3":0,"s4":-0.3,"s5":-0.5},
{"d":"2020-11-25","s1":0,"s2":0,"s3":0,"s4":0,"s5":0},
{"d":"2020-12-04","s1":-0.4,"s2":-0.6,"s3":-0.4,"s4":-0.5,"s5":-0.5},
{"d":"2020-12-10","s1":-1.2,"s2":-2.0,"s3":-1.1,"s4":-1.2,"s5":-1.3},
{"d":"2020-12-18","s1":-0.3,"s2":-0.4,"s3":-0.2,"s4":-0.3,"s5":-0.3},
{"d":"2020-12-30","s1":-0.5,"s2":-0.6,"s3":-0.4,"s4":-0.5,"s5":-0.5},
{"d":"2021-01-08","s1":-0.3,"s2":-0.4,"s3":-0.2,"s4":-0.3,"s5":-0.3},
{"d":"2021-01-15","s1":-0.8,"s2":-1.5,"s3":-0.7,"s4":-0.8,"s5":-0.8},
{"d":"2021-01-29","s1":-3.3,"s2":-3.2,"s3":-3.0,"s4":-3.4,"s5":-3.5},
{"d":"2021-02-05","s1":-0.5,"s2":-0.6,"s3":-0.4,"s4":-0.5,"s5":-0.5},
{"d":"2021-02-12","s1":-0.2,"s2":-0.3,"s3":-0.1,"s4":-0.2,"s5":-0.2},
{"d":"2021-02-25","s1":-2.0,"s2":-3.0,"s3":-2.0,"s4":-2.0,"s5":-2.0},
{"d":"2021-03-04","s1":-2.7,"s2":-3.3,"s3":-2.6,"s4":-2.8,"s5":-2.8},
{"d":"2021-03-12","s1":-0.5,"s2":-0.6,"s3":-0.4,"s4":-0.5,"s5":-0.5},
{"d":"2021-03-24","s1":-1.4,"s2":-1.7,"s3":-1.3,"s4":-1.5,"s5":-1.5},
{"d":"2021-04-05","s1":-0.3,"s2":-0.3,"s3":-0.2,"s4":-0.3,"s5":-0.3},
{"d":"2021-04-16","s1":0,"s2":0,"s3":0,"s4":0,"s5":0},
{"d":"2021-05-04","s1":-1.9,"s2":-2.5,"s3":-1.8,"s4":-2.0,"s5":-2.0},
{"d":"2021-05-12","s1":-2.4,"s2":-2.8,"s3":-2.3,"s4":-2.5,"s5":-2.5},
{"d":"2021-05-20","s1":-0.9,"s2":-1.2,"s3":-0.8,"s4":-1.0,"s5":-1.0},
{"d":"2021-06-01","s1":-0.5,"s2":-0.6,"s3":-0.4,"s4":-0.5,"s5":-0.5},
{"d":"2021-06-18","s1":-1.9,"s2":-2.2,"s3":-1.8,"s4":-2.0,"s5":-2.0},
{"d":"2021-06-25","s1":-0.3,"s2":-0.4,"s3":-0.2,"s4":-0.3,"s5":-0.3},
{"d":"2021-07-08","s1":-0.3,"s2":-0.4,"s3":-0.2,"s4":-0.3,"s5":-0.3},
{"d":"2021-07-19","s1":-3.4,"s2":-3.5,"s3":-3.0,"s4":-3.5,"s5":-3.7},
{"d":"2021-07-26","s1":-0.5,"s2":-0.6,"s3":-0.4,"s4":-0.5,"s5":-0.5},
{"d":"2021-08-06","s1":-0.3,"s2":-0.4,"s3":-0.2,"s4":-0.3,"s5":-0.3},
{"d":"2021-08-16","s1":-0.2,"s2":-0.2,"s3":-0.1,"s4":-0.2,"s5":-0.2},
{"d":"2021-08-20","s1":-1.0,"s2":-1.2,"s3":-0.9,"s4":-1.0,"s5":-1.0},
{"d":"2021-09-02","s1":-0.5,"s2":-0.6,"s3":-0.4,"s4":-0.5,"s5":-0.5},
{"d":"2021-09-10","s1":-1.5,"s2":-1.8,"s3":-1.4,"s4":-1.5,"s5":-1.5},
{"d":"2021-09-20","s1":-3.7,"s2":-5.0,"s3":-3.5,"s4":-3.8,"s5":-4.0},
{"d":"2021-09-30","s1":-5.0,"s2":-7.0,"s3":-4.8,"s4":-5.0,"s5":-5.5},
{"d":"2021-10-04","s1":-4.7,"s2":-8.3,"s3":-4.5,"s4":-4.8,"s5":-5.0},
{"d":"2021-10-12","s1":-3.8,"s2":-7.0,"s3":-3.5,"s4":-4.0,"s5":-4.5},
{"d":"2021-10-20","s1":-1.8,"s2":-5.0,"s3":-1.5,"s4":-2.0,"s5":-2.5},
{"d":"2021-10-29","s1":-1.0,"s2":-3.5,"s3":-0.8,"s4":-0.8,"s5":-1.5},
{"d":"2021-11-05","s1":-0.3,"s2":-2.0,"s3":-0.5,"s4":0,"s5":-0.5},
{"d":"2021-11-15","s1":-0.4,"s2":-1.5,"s3":-0.5,"s4":0,"s5":-0.8},
{"d":"2021-11-26","s1":-3.3,"s2":-4.0,"s3":-3.0,"s4":-3.5,"s5":-5.0},
{"d":"2021-11-30","s1":-4.3,"s2":-5.3,"s3":-4.0,"s4":-4.5,"s5":-6.8},
{"d":"2021-12-07","s1":-2.8,"s2":-4.0,"s3":-2.5,"s4":-3.0,"s5":-3.0},
{"d":"2021-12-13","s1":-3.8,"s2":-5.5,"s3":-3.5,"s4":-4.0,"s5":-4.5},
{"d":"2021-12-20","s1":-1.5,"s2":-3.5,"s3":-1.5,"s4":-1.5,"s5":-2.0},
{"d":"2021-12-30","s1":-0.3,"s2":-1.5,"s3":-0.2,"s4":0,"s5":-0.3}
  ]},
  "transform": [
    {"fold": ["s1", "s2", "s3", "s4", "s5"], "as": ["series", "value"]}
  ],
  "mark": {"type": "line", "strokeWidth": 2.5, "clip": true},
  "encoding": {
    "x": {
      "field": "d", "type": "temporal",
      "scale": {"domain": ["2013-08-25", "2022-04-17"]},
      "axis": {"title": "Gadi", "format": "%Y", "tickCount": {"interval": "year", "step": 1}, "labelAngle": -30, "labelAlign": "right", "labelBaseline": "top", "labelPadding": 5, "titlePadding": 9, "labelFlush": false, "labelOverlap": false}
    },
    "y": {
      "field": "value", "type": "quantitative",
      "scale": {"domain": [-40.34, 1.88], "nice": false, "zero": false},
      "axis": {"title": "Maksimālie kritumi", "values": [-40, -35, -30, -25, -20, -15, -10, -5, 0], "labelExpr": "format(datum.value, '.1f') + '%'", "titlePadding": 21}
    },
    "color": {
      "field": "series", "type": "nominal",
      "scale": {"domain": ["s1", "s2", "s3", "s4", "s5"], "range": ["#1f77b4", "#ff7f0e", "#2ca02c", "#d62728", "#9467bd"]},
      "legend": {
        "title": null,
        "orient": "none", "legendX": 9, "legendY": 354,
        "symbolType": "stroke", "symbolSize": 1000, "symbolStrokeWidth": 2,
        "labelOffset": 16, "rowPadding": -6.6, "padding": 2,
        "fillColor": "white", "strokeColor": "#d5d5d5", "cornerRadius": 3,
        "labelExpr": "datum.value == 's1' ? 'MSR' : datum.value == 's2' ? 'ESG<=10' : datum.value == 's3' ? 'ESG<=15' : datum.value == 's4' ? 'ESG>=25' : 'ESG>=30'"
      }
    }
  }
}
